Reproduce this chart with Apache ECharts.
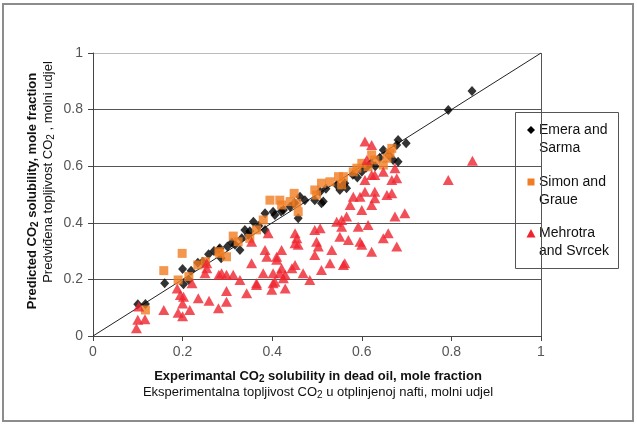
<!DOCTYPE html>
<html>
<head>
<meta charset="utf-8">
<script src="https://cdn.jsdelivr.net/npm/echarts@6/dist/echarts.min.js"></script>
<style>html,body{margin:0;padding:0;background:#fff;}#c{width:637px;height:427px;}</style>
</head>
<body>
<div id="c"></div>
<script>
var seriesNames = ['Emera and Sarma', 'Simon and Graue', 'Mehrotra and Svrcek'];
var xTicks = [0, 0.2, 0.4, 0.6, 0.8, 1];
var yTicks = [0, 0.2, 0.4, 0.6, 0.8, 1];
var diagonal = [[0, 0], [1, 1]];

var emeraSarma = [
  [0.100,0.112],[0.117,0.113],[0.160,0.186],[0.200,0.237],[0.202,0.183],[0.214,0.198],[0.219,0.231],
  [0.234,0.259],[0.245,0.262],[0.258,0.289],[0.270,0.300],[0.281,0.306],[0.283,0.310],[0.286,0.275],
  [0.300,0.316],[0.310,0.330],[0.317,0.322],[0.328,0.304],[0.332,0.345],[0.339,0.375],[0.347,0.357],
  [0.350,0.370],[0.358,0.404],[0.370,0.390],[0.384,0.434],[0.384,0.375],[0.402,0.439],[0.406,0.428],
  [0.420,0.440],[0.425,0.445],[0.440,0.457],[0.450,0.470],[0.458,0.416],[0.462,0.492],[0.473,0.480],
  [0.495,0.480],[0.507,0.510],[0.510,0.469],[0.514,0.475],[0.520,0.520],[0.544,0.534],[0.551,0.516],
  [0.559,0.534],[0.566,0.522],[0.562,0.540],[0.580,0.570],[0.590,0.560],[0.600,0.580],[0.610,0.595],
  [0.620,0.610],[0.630,0.600],[0.640,0.630],[0.648,0.657],[0.660,0.640],[0.670,0.622],[0.678,0.675],
  [0.681,0.693],[0.699,0.681],[0.681,0.616],[0.793,0.799],[0.846,0.866]
];

var simonGraue = [
  [0.117,0.092],[0.158,0.231],[0.190,0.198],[0.199,0.292],[0.214,0.210],[0.234,0.251],[0.251,0.263],
  [0.281,0.298],[0.283,0.292],[0.298,0.280],[0.313,0.353],[0.324,0.333],[0.350,0.345],[0.365,0.375],
  [0.380,0.410],[0.395,0.480],[0.417,0.480],[0.421,0.463],[0.440,0.475],[0.449,0.504],[0.455,0.469],
  [0.458,0.439],[0.495,0.516],[0.499,0.498],[0.510,0.540],[0.529,0.545],[0.548,0.563],[0.555,0.534],
  [0.559,0.563],[0.581,0.580],[0.589,0.593],[0.600,0.610],[0.614,0.598],[0.622,0.640],[0.629,0.622],
  [0.648,0.604],[0.656,0.628],[0.663,0.646],[0.667,0.663]
];

var mehrotraSvrcek = [
  [0.097,0.027],[0.100,0.057],[0.102,0.104],[0.116,0.059],[0.158,0.092],[0.190,0.082],[0.200,0.070],
  [0.216,0.092],[0.188,0.168],[0.195,0.145],[0.202,0.139],[0.200,0.115],[0.221,0.186],[0.235,0.133],
  [0.259,0.125],[0.250,0.222],[0.254,0.239],[0.254,0.257],[0.280,0.098],[0.281,0.216],[0.287,0.222],
  [0.298,0.216],[0.298,0.121],[0.298,0.159],[0.313,0.216],[0.328,0.198],[0.343,0.151],[0.365,0.180],
  [0.365,0.186],[0.354,0.257],[0.354,0.333],[0.380,0.222],[0.384,0.304],[0.388,0.280],[0.391,0.363],
  [0.399,0.163],[0.402,0.222],[0.402,0.186],[0.406,0.192],[0.410,0.280],[0.410,0.269],[0.417,0.222],
  [0.421,0.304],[0.421,0.239],[0.425,0.204],[0.429,0.216],[0.429,0.168],[0.444,0.239],[0.451,0.251],
  [0.451,0.328],[0.451,0.363],[0.458,0.322],[0.455,0.345],[0.469,0.222],[0.484,0.198],[0.495,0.286],
  [0.495,0.375],[0.499,0.333],[0.507,0.381],[0.503,0.316],[0.510,0.233],[0.529,0.257],[0.533,0.304],
  [0.544,0.404],[0.555,0.386],[0.559,0.251],[0.555,0.410],[0.566,0.422],[0.574,0.463],[0.600,0.445],
  [0.581,0.492],[0.596,0.492],[0.607,0.510],[0.629,0.510],[0.629,0.487],[0.622,0.463],[0.656,0.498],
  [0.667,0.504],[0.674,0.422],[0.696,0.434],[0.592,0.386],[0.614,0.392],[0.659,0.363],[0.648,0.345],
  [0.570,0.339],[0.596,0.333],[0.600,0.322],[0.551,0.351],[0.622,0.298],[0.678,0.316],[0.562,0.257],
  [0.607,0.687],[0.622,0.675],[0.611,0.622],[0.622,0.569],[0.629,0.569],[0.648,0.580],[0.674,0.593],
  [0.678,0.557],[0.667,0.551],[0.607,0.551],[0.793,0.551],[0.847,0.619]
];

var FONT = '"Liberation Sans", Arial, sans-serif';
var chart = echarts.init(document.getElementById('c'), null, {renderer: 'canvas'});

function titleRich(bold) {
  var w = bold ? 'bold' : 'normal';
  return {
    t: {fontFamily: FONT, fontSize: 13, fontWeight: w, fill: '#111', lineHeight: 16},
    s: {fontFamily: FONT, fontSize: 10, fontWeight: w, fill: '#111', lineHeight: 16, verticalAlign: 'bottom', padding: [6, 0, 0, 0]}
  };
}

var option = {
  backgroundColor: '#ffffff',
  animation: false,
  grid: {left: 93, right: 96, top: 53, bottom: 91, show: false},
  xAxis: {
    type: 'value', min: xTicks[0], max: xTicks[xTicks.length - 1], interval: 0.2,
    axisLine: {show: true, onZero: false, lineStyle: {color: '#444', width: 1}},
    axisTick: {show: true, length: 5, lineStyle: {color: '#444'}},
    axisLabel: {color: '#555', fontSize: 14, fontFamily: FONT, margin: 9,
      formatter: function (v) { return String(+v.toFixed(1)); }},
    splitLine: {show: true, lineStyle: {color: ['transparent','transparent','transparent','transparent','transparent','#555'], width: 1}}
  },
  yAxis: {
    type: 'value', min: yTicks[0], max: yTicks[yTicks.length - 1], interval: 0.2,
    axisLine: {show: true, onZero: false, lineStyle: {color: '#444', width: 1}},
    axisTick: {show: true, length: 5, lineStyle: {color: '#444'}},
    axisLabel: {color: '#555', fontSize: 14, fontFamily: FONT, margin: 10,
      formatter: function (v) { return String(+v.toFixed(1)); }},
    splitLine: {show: true, lineStyle: {color: ['#555','#555','#555','#555','#555','#bbb'], width: 1}}
  },
  series: [
    {name: 'diagonal', type: 'line', data: diagonal, showSymbol: false, symbol: 'none',
      lineStyle: {color: '#222', width: 1}, z: 1, silent: true},
    {name: seriesNames[0], type: 'scatter', data: emeraSarma, symbol: 'diamond', symbolSize: [9, 10],
      itemStyle: {color: '#000000'}, z: 2},
    {name: seriesNames[1], type: 'scatter', data: simonGraue, symbol: 'rect', symbolSize: 9,
      itemStyle: {color: '#f07d23'}, z: 3},
    {name: seriesNames[2], type: 'scatter', data: mehrotraSvrcek, symbol: 'triangle', symbolSize: [11, 10],
      itemStyle: {color: '#ef2430'}, z: 4}
  ],
  graphic: [
    {type: 'rect', shape: {x: 3, y: 4, width: 630, height: 417}, style: {fill: 'none', stroke: '#8c8c8c', lineWidth: 2}, z: 0, silent: true},
    {type: 'text', x: 32, y: 191, rotation: Math.PI / 2, style: {text: '{t|Predicted CO}{s|2}{t| solubility, mole fraction}', rich: titleRich(true), align: 'center', verticalAlign: 'middle'}},
    {type: 'text', x: 48, y: 172, rotation: Math.PI / 2, style: {text: '{t|Predviđena topljivost CO}{s|2}{t| , molni udjel}', rich: titleRich(false), align: 'center', verticalAlign: 'middle'}},
    {type: 'text', x: 318, y: 376, style: {text: '{t|Experimantal CO}{s|2}{t| solubility in dead oil, mole fraction}', rich: titleRich(true), align: 'center', verticalAlign: 'middle'}},
    {type: 'text', x: 318, y: 392, style: {text: '{t|Eksperimentalna topljivost CO}{s|2}{t| u otplinjenoj nafti, molni udjel}', rich: titleRich(false), align: 'center', verticalAlign: 'middle'}},
    {type: 'group', z: 100, children: [
      {type: 'rect', shape: {x: 515.5, y: 112.5, width: 103, height: 156}, style: {fill: '#fff', stroke: '#555', lineWidth: 1}},
      {type: 'polygon', shape: {points: [[531, 126], [535, 130], [531, 134], [527, 130]]}, style: {fill: '#000'}},
      {type: 'text', x: 539, y: 130, style: {text: 'Emera and', font: '14px ' + FONT, fill: '#111', textVerticalAlign: 'middle'}},
      {type: 'text', x: 539, y: 148, style: {text: 'Sarma', font: '14px ' + FONT, fill: '#111', textVerticalAlign: 'middle'}},
      {type: 'rect', shape: {x: 527.5, y: 178.5, width: 7, height: 7}, style: {fill: '#f07d23'}},
      {type: 'text', x: 539, y: 182, style: {text: 'Simon and', font: '14px ' + FONT, fill: '#111', textVerticalAlign: 'middle'}},
      {type: 'text', x: 539, y: 200, style: {text: 'Graue', font: '14px ' + FONT, fill: '#111', textVerticalAlign: 'middle'}},
      {type: 'polygon', shape: {points: [[531, 229], [535.5, 237.5], [526.5, 237.5]]}, style: {fill: '#ef2430'}},
      {type: 'text', x: 539, y: 233, style: {text: 'Mehrotra', font: '14px ' + FONT, fill: '#111', textVerticalAlign: 'middle'}},
      {type: 'text', x: 539, y: 251, style: {text: 'and Svrcek', font: '14px ' + FONT, fill: '#111', textVerticalAlign: 'middle'}}
    ]}
  ]
};
chart.setOption(option);
</script>
</body>
</html>
